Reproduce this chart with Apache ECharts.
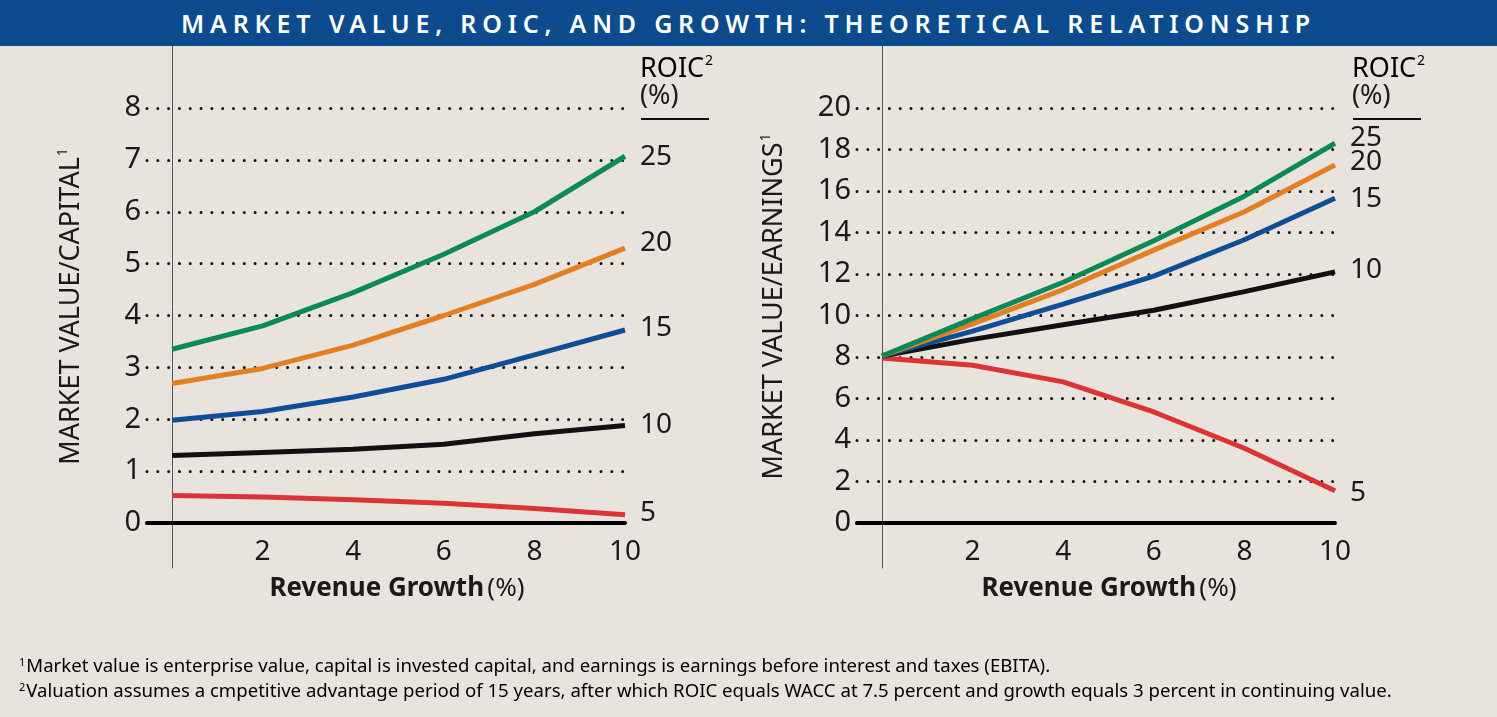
<!DOCTYPE html>
<html>
<head>
<meta charset="utf-8">
<script src="https://cdn.jsdelivr.net/npm/echarts@6/dist/echarts.min.js"></script>
<style>
  html, body { margin: 0; padding: 0; background: #e8e3dc; }
  #wrap { position: relative; width: 1497px; height: 717px; overflow: hidden; background: #e8e3dc; }
  #chart { position: absolute; left: 0; top: 0; width: 1497px; height: 717px; }
  #hdr { position: absolute; left: 0; top: 0; width: 1497px; height: 46px; background: #0b4b8e;
         color: #fff; font-family: "Noto Sans", "Open Sans", sans-serif;
         font-weight: 600; font-size: 25px; line-height: 46px; text-align: center; letter-spacing: 5.8px; white-space: nowrap; }
</style>
</head>
<body>
<div id="wrap">
  <div id="chart"></div>
  <div id="hdr">MARKET VALUE, ROIC, AND GROWTH: THEORETICAL RELATIONSHIP</div>
</div>
<script>
// ---------------- data ----------------
const growth = [0, 2, 4, 6, 8, 10];
const roicNames = ['5', '10', '15', '20', '25'];
const seriesColors = ['#dc3434', '#111111', '#0d4f97', '#e47e22', '#0b8a57'];

// Market value / capital
const capRoic5  = [0.53, 0.50, 0.45, 0.38, 0.28, 0.16];
const capRoic10 = [1.30, 1.36, 1.42, 1.52, 1.72, 1.88];
const capRoic15 = [1.98, 2.15, 2.43, 2.77, 3.24, 3.72];
const capRoic20 = [2.69, 2.98, 3.43, 4.00, 4.60, 5.30];
const capRoic25 = [3.35, 3.80, 4.44, 5.18, 6.00, 7.07];

// Market value / earnings
const earnRoic5  = [7.95, 7.60, 6.80, 5.35, 3.60, 1.55];
const earnRoic10 = [8.05, 8.85, 9.55, 10.25, 11.15, 12.10];
const earnRoic15 = [8.05, 9.25, 10.55, 11.90, 13.65, 15.65];
const earnRoic20 = [8.05, 9.60, 11.25, 13.15, 15.00, 17.25];
const earnRoic25 = [8.05, 9.85, 11.60, 13.60, 15.75, 18.30];

const xTicks = [2, 4, 6, 8, 10];
const capTicks = [0, 1, 2, 3, 4, 5, 6, 7, 8];
const earnTicks = [0, 2, 4, 6, 8, 10, 12, 14, 16, 18, 20];

const footnote1 = 'Market value is enterprise value, capital is invested capital, and earnings is earnings before interest and taxes (EBITA).';
const footnote2 = 'Valuation assumes a cmpetitive advantage period of 15 years, after which ROIC equals WACC at 7.5 percent and growth equals 3 percent in continuing value.';

// ---------------- layout ----------------
const FONT = '"Noto Sans", "Open Sans", sans-serif';
const TXT = '#1a1a1a';
const PLOT_TOP_PX = 108, ZERO_PX = 523, GRID_TOP = 45, GRID_BOT_PX = 568;
const X0_OFFSET_PX = 25;           // gridlines start this far left of x=0
const PLOT_W = 453;                // px from x=0 to x=10

function yRange(topVal) {
  const unit = (ZERO_PX - PLOT_TOP_PX) / topVal;
  return { min: -(GRID_BOT_PX - ZERO_PX) / unit, max: topVal + (PLOT_TOP_PX - GRID_TOP) / unit };
}
const xMin = -X0_OFFSET_PX / (PLOT_W / 10);

const capSeries = [capRoic5, capRoic10, capRoic15, capRoic20, capRoic25];
const earnSeries = [earnRoic5, earnRoic10, earnRoic15, earnRoic20, earnRoic25];
const capLabelOffsets = [[0, -2], [0, 0], [0, -2], [0, -5], [0, 1]];
const earnLabelOffsets = [[0, 2], [0, -2], [0, 1], [0, -3], [0, -5]];

const supRich = {
  m: { fontFamily: FONT, fontSize: 27, color: TXT, lineHeight: 32 },
  s: { fontFamily: FONT, fontSize: 14, color: TXT, lineHeight: 14, verticalAlign: 'top', padding: [1, 0, 0, 1] }
};

function makeGrid(left, right) {
  return { left: left, right: right, top: GRID_TOP, bottom: 717 - GRID_BOT_PX, containLabel: false };
}

function makeXAxis(idx, padLeft) {
  return {
    type: 'value', gridIndex: idx, min: xMin, max: 10,
    axisLine: { show: true, onZero: true, lineStyle: { color: '#000', width: 4 } },
    axisTick: { show: false, customValues: xTicks },
    axisLabel: { customValues: xTicks, margin: -30, fontFamily: FONT, fontSize: 28, color: TXT },
    splitLine: { show: false },
    name: '{b|Revenue Growth} {r|(%)}',
    nameLocation: 'middle', nameGap: 8,
    nameTextStyle: {
      padding: [0, 0, 0, padLeft],
      rich: {
        b: { fontFamily: FONT, fontSize: 26, fontWeight: 'bold', color: TXT },
        r: { fontFamily: FONT, fontSize: 26, color: TXT }
      }
    }
  };
}

function makeYAxis(idx, topVal, ticks, nameStr, gap) {
  const r = yRange(topVal);
  return {
    type: 'value', gridIndex: idx, min: r.min, max: r.max,
    axisLine: { show: true, onZero: true, lineStyle: { color: '#555', width: 1 } },
    axisTick: { show: false, customValues: ticks },
    axisLabel: { customValues: ticks, margin: 6, fontFamily: FONT, fontSize: 29, color: TXT },
    splitLine: { show: true, lineStyle: { color: '#111', width: 3, type: [0.01, 10.8], cap: 'round' } },
    name: '{m|' + nameStr + '}{s|1}',
    nameLocation: 'middle', nameRotate: 90, nameGap: gap,
    nameTextStyle: { rich: supRich }
  };
}

function makeSeries(arrs, idx, offsets) {
  return arrs.map((vals, i) => ({
    type: 'line', name: roicNames[i], xAxisIndex: idx, yAxisIndex: idx,
    data: growth.map((g, j) => [g, vals[j]]),
    showSymbol: false, symbol: 'none', smooth: false,
    lineStyle: { color: seriesColors[i], width: 5 },
    itemStyle: { color: seriesColors[i] },
    z: 3 + i,
    endLabel: { show: true, formatter: roicNames[i], distance: 15, offset: offsets[i],
                fontFamily: FONT, fontSize: 28, color: TXT },
    emphasis: { disabled: true },
    silent: true
  }));
}

function roicHeader(left) {
  return [
    { type: 'text', left: left, top: 53, style: { text: '{m|ROIC}{s|2}', rich: supRich } },
    { type: 'text', left: left, top: 83, style: { text: '(%)', fontFamily: FONT, fontSize: 27, fill: TXT } },
    { type: 'rect', left: left + 1, top: 118, shape: { width: 68, height: 2 }, style: { fill: '#111' } }
  ];
}

const footRich = {
  m: { fontFamily: FONT, fontSize: 18.6, color: TXT, lineHeight: 24 },
  s: { fontFamily: FONT, fontSize: 11, color: TXT, lineHeight: 11, verticalAlign: 'top', padding: [2, 1, 0, 0] }
};

const chart = echarts.init(document.getElementById('chart'), null, { renderer: 'canvas' });
chart.setOption({
  backgroundColor: '#e8e3dc',
  animation: false,
  grid: [makeGrid(172 - X0_OFFSET_PX, 1497 - 625), makeGrid(882 - X0_OFFSET_PX, 1497 - 1335)],
  xAxis: [makeXAxis(0, 22), makeXAxis(1, 26)],
  yAxis: [
    makeYAxis(0, 8, capTicks, 'MARKET VALUE/CAPITAL', 60),
    makeYAxis(1, 20, earnTicks, 'MARKET VALUE/EARNINGS', 67)
  ],
  series: makeSeries(capSeries, 0, capLabelOffsets).concat(makeSeries(earnSeries, 1, earnLabelOffsets)),
  graphic: roicHeader(640).concat(roicHeader(1352)).concat([
    { type: 'text', left: 19, top: 655, style: { text: '{s|1}{m|' + footnote1 + '}', rich: footRich } },
    { type: 'text', left: 19, top: 680, style: { text: '{s|2}{m|' + footnote2 + '}', rich: footRich } }
  ])
});
</script>
</body>
</html>
